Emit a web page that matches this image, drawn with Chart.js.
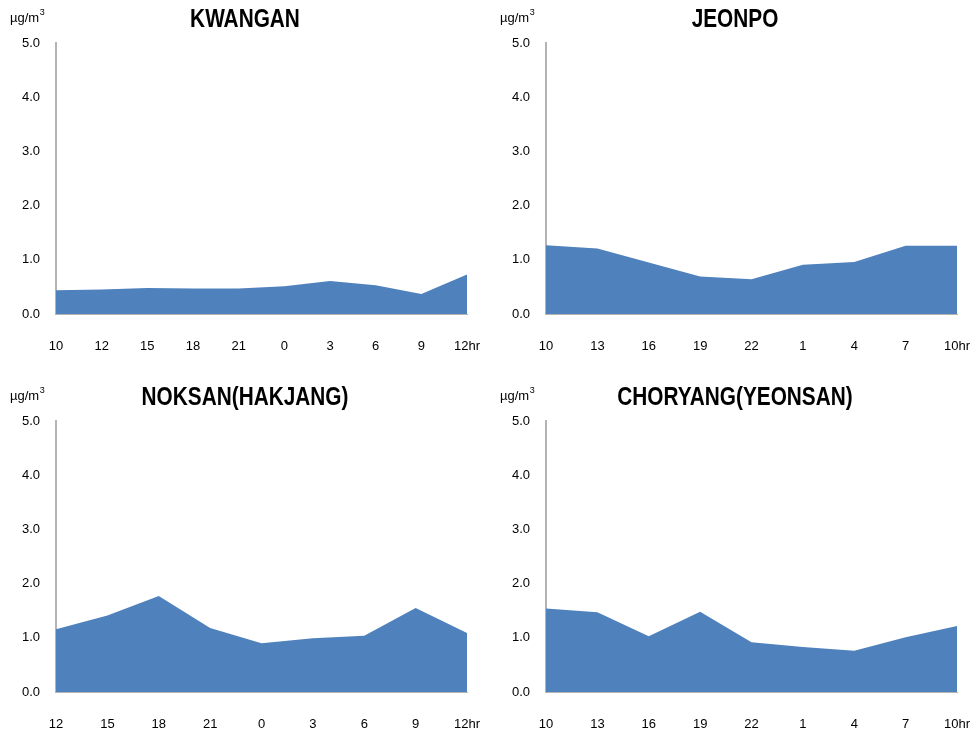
<!DOCTYPE html>
<html>
<head>
<meta charset="utf-8">
<script src="https://cdn.jsdelivr.net/npm/chart.js@4/dist/chart.umd.min.js"></script>
<style>
  html, body { margin: 0; padding: 0; background: #fff; }
  #wrap { position: relative; width: 980px; height: 733px; }
  .panel { position: absolute; width: 490px; height: 366px; }
  .panel canvas { width: 490px !important; height: 366px !important; }
</style>
</head>
<body>
<div id="wrap">
  <div class="panel" style="left:0;top:0"><canvas id="c1"></canvas></div>
  <div class="panel" style="left:490px;top:0"><canvas id="c2"></canvas></div>
  <div class="panel" style="left:0;top:378px"><canvas id="c3"></canvas></div>
  <div class="panel" style="left:490px;top:378px"><canvas id="c4"></canvas></div>
</div>
<script>
// Hourly concentrations (µg/m³) at four sites
const kwanganHours = ['10', '12', '15', '18', '21', '0', '3', '6', '9', '12hr'];
const kwanganValues = [0.44, 0.45, 0.48, 0.47, 0.47, 0.51, 0.61, 0.53, 0.37, 0.73];

const jeonpoHours = ['10', '13', '16', '19', '22', '1', '4', '7', '10hr'];
const jeonpoValues = [1.27, 1.21, 0.95, 0.69, 0.64, 0.91, 0.96, 1.26, 1.26];

const noksanHours = ['12', '15', '18', '21', '0', '3', '6', '9', '12hr'];
const noksanValues = [1.16, 1.41, 1.77, 1.18, 0.90, 0.99, 1.04, 1.55, 1.09];

const choryangHours = ['10', '13', '16', '19', '22', '1', '4', '7', '10hr'];
const choryangValues = [1.54, 1.47, 1.03, 1.48, 0.92, 0.83, 0.76, 1.01, 1.22];

const yTicks = [0, 1, 2, 3, 4, 5];
const unitLabel = 'µg/m';

const FILL = '#4F81BD';
const AXIS = '#B4B4B4';
const TEXT = '#000';
const FONT_FAMILY = '"Liberation Sans", Arial, sans-serif';
const TICK_FONT = { family: FONT_FAMILY, size: 13 };

// Panel title (condensed bold) and unit caption drawn above the plot area
const headerPlugin = {
  id: 'header',
  afterDraw(chart, args, opts) {
    const ctx = chart.ctx;
    ctx.save();
    ctx.fillStyle = '#000';
    ctx.textAlign = 'center';
    ctx.textBaseline = 'middle';
    ctx.font = 'bold 26px ' + FONT_FAMILY;
    ctx.translate(chart.width / 2, 20);
    ctx.scale(0.8, 1);
    ctx.fillText(opts.text, 0, 0);
    ctx.restore();

    // unit: µg/m with superscript 3
    ctx.save();
    ctx.fillStyle = '#000';
    ctx.textAlign = 'left';
    ctx.textBaseline = 'middle';
    ctx.font = '13px ' + FONT_FAMILY;
    const x0 = 10;
    ctx.fillText(unitLabel, x0, 18);
    const w = ctx.measureText(unitLabel).width;
    ctx.font = '9px ' + FONT_FAMILY;
    ctx.fillText('3', x0 + w + 0.5, 13);
    ctx.restore();
  }
};

function makeChart(id, title, hours, values) {
  return new Chart(document.getElementById(id), {
    type: 'line',
    data: {
      labels: hours,
      datasets: [{
        data: values,
        fill: 'origin',
        backgroundColor: FILL,
        borderWidth: 0,
        borderColor: FILL,
        pointRadius: 0,
        tension: 0
      }]
    },
    options: {
      responsive: false,
      animation: false,
      devicePixelRatio: 1,
      layout: { padding: { top: 43, right: 23, left: 0, bottom: 0 } },
      plugins: {
        legend: { display: false },
        tooltip: { enabled: false },
        header: { text: title }
      },
      scales: {
        x: {
          type: 'category',
          offset: false,
          grid: { display: false, drawTicks: false },
          border: { display: true, color: AXIS, width: 1 },
          ticks: { autoSkip: false, maxRotation: 0, padding: 25, color: TEXT, font: TICK_FONT },
          afterFit(scale) {
            scale.height = 52;
            scale.paddingLeft = 0;
            scale.paddingRight = 0;
          }
        },
        y: {
          min: 0,
          max: 5,
          afterBuildTicks(scale) { scale.ticks = yTicks.map(v => ({ value: v })); },
          grid: { display: false, drawTicks: false },
          border: { display: true, color: AXIS, width: 2 },
          ticks: { padding: 16, color: TEXT, font: TICK_FONT, callback: v => Number(v).toFixed(1) },
          afterFit(scale) {
            scale.width = 56;
            scale.paddingTop = 0;
            scale.paddingBottom = 0;
          }
        }
      }
    },
    plugins: [headerPlugin]
  });
}

[['c1', 'KWANGAN', kwanganHours, kwanganValues],
 ['c2', 'JEONPO', jeonpoHours, jeonpoValues],
 ['c3', 'NOKSAN(HAKJANG)', noksanHours, noksanValues],
 ['c4', 'CHORYANG(YEONSAN)', choryangHours, choryangValues]].forEach(p => {
  const cv = document.getElementById(p[0]);
  cv.width = 490; cv.height = 366;
  makeChart(p[0], p[1], p[2], p[3]);
});
</script>
</body>
</html>
